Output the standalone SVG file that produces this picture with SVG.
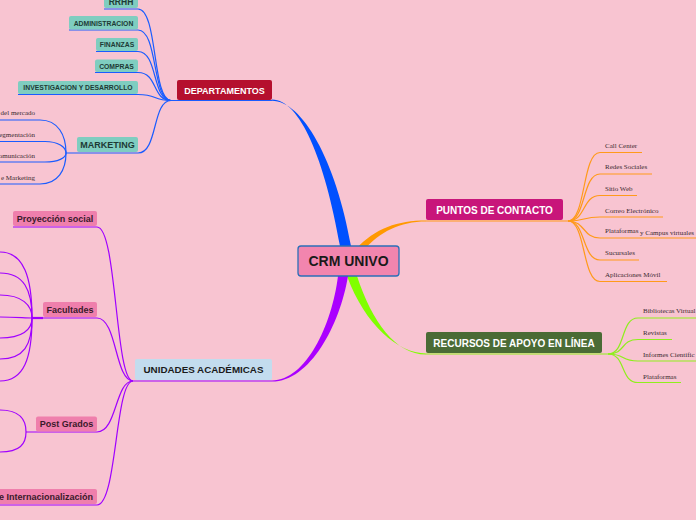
<svg xmlns="http://www.w3.org/2000/svg" width="696" height="520" viewBox="0 0 696 520">
<style>
.bg{fill:#f8c4d1}
.lb{fill:none;stroke:#1a5cff;stroke-width:1.2}
.lp{fill:none;stroke:#a000ff;stroke-width:1.2}
.lo{fill:none;stroke:#ff9a1a;stroke-width:1.2}
.lg{fill:none;stroke:#8fef1c;stroke-width:1.2}
.teal{fill:#7fcdc0}
.pink{fill:#ef7fac}
.tt{font-family:"Liberation Sans",Arial,sans-serif;font-weight:bold;fill:#1d3a35}
.pt{font-family:"Liberation Sans",Arial,sans-serif;font-weight:bold;font-size:9px;fill:#3a1a2a}
.st{font-family:"Liberation Serif","Times New Roman",serif;font-size:7px;fill:#3a2a30}
.mt{font-family:"Liberation Sans",Arial,sans-serif;font-weight:bold;text-anchor:middle}
</style>
<rect class="bg" x="0" y="0" width="696" height="520"/>

<g id="connectors">
  <path d="M272,99.5 C300,99.5 325,160 340,246 L351,246 C336,160 302,100.7 272,100.7 Z" fill="#0050ff"/>
  <path d="M356,249 C375,228 398,220.4 426,220.4 L426,221.6 C400,221.6 380,232 364,250 Z" fill="#ff9900"/>
  <path d="M347,276 C365,325 398,353.4 426,353.4 L426,354.6 C396,354.6 372,322 357,276 Z" fill="#80ff00"/>
  <path d="M338,276 C332,325 306,380.4 272,380.4 L272,381.6 C310,381.6 340,325 348,276 Z" fill="#aa00ff"/>

  <line class="lb" x1="170" y1="100.5" x2="272" y2="100.5"/>
  <line class="lp" x1="133" y1="381" x2="272" y2="381"/>
  <line class="lo" x1="426" y1="221" x2="568" y2="221"/>
  <line class="lg" x1="426" y1="354" x2="608" y2="354"/>

  <path class="lb" d="M104,9 L138,9 C158,9 152,100.5 171,100.5"/>
  <path class="lb" d="M69,30 L138,30 C158,30 152,100.5 171,100.5"/>
  <path class="lb" d="M96,51.5 L138,51.5 C158,51.5 152,100.5 171,100.5"/>
  <path class="lb" d="M95,72.5 L138,72.5 C158,72.5 152,100.5 171,100.5"/>
  <path class="lb" d="M18,94.5 L138,94.5 C158,94.5 152,100.5 171,100.5"/>
  <path class="lb" d="M66,153 L138,153 C158,153 152,100.5 171,100.5"/>

  <path class="lb" d="M0,120 L40,120 C58,120 66,135 66,153"/>
  <path class="lb" d="M0,141.5 L45,141.5 C58,141.5 66,147 66,153"/>
  <path class="lb" d="M0,162 L45,162 C58,162 66,158 66,153"/>
  <path class="lb" d="M0,184 L40,184 C58,184 66,170 66,153"/>

  <path class="lp" d="M13,227 L97,227 C117,227 115,381 133,381"/>
  <path class="lp" d="M32,318 L97,318 C117,318 115,381 133,381"/>
  <path class="lp" d="M26,432 L97,432 C117,432 115,381 133,381"/>
  <path class="lp" d="M0,505 L97,505 C117,505 115,381 133,381"/>
  <line x1="32" y1="318" x2="43" y2="318" stroke="#a000ff" stroke-width="2.2"/>

  <path class="lp" d="M0,252 C24,252 32,278 32,318"/>
  <path class="lp" d="M0,273 C24,273 32,290 32,318"/>
  <path class="lp" d="M0,295 C22,295 32,305 32,318"/>
  <path class="lp" d="M0,317 C15,317 25,318 32,318"/>
  <path class="lp" d="M0,338 C22,338 32,330 32,318"/>
  <path class="lp" d="M0,359 C24,359 32,345 32,318"/>
  <path class="lp" d="M0,381 C24,381 32,358 32,318"/>

  <path class="lp" d="M0,410 C20,410 26,420 26,432"/>
  <path class="lp" d="M0,452 C20,452 26,444 26,432"/>

  <path class="lo" d="M568,221 C586,221 582,152.5 600,152.5 L642,152.5"/>
  <path class="lo" d="M568,221 C586,221 582,174 600,174 L652,174"/>
  <path class="lo" d="M568,221 C586,221 582,195.5 600,195.5 L637,195.5"/>
  <path class="lo" d="M568,221 C586,221 582,217 600,217 L663,217"/>
  <path class="lo" d="M568,221 C586,221 582,238 600,238 L696,238"/>
  <path class="lo" d="M568,221 C586,221 582,260 600,260 L639,260"/>
  <path class="lo" d="M568,221 C586,221 582,281.5 600,281.5 L667,281.5"/>

  <path class="lg" d="M608,354 C626,354 620,318 638,318 L696,318"/>
  <path class="lg" d="M608,354 C626,354 620,339.5 638,339.5 L672,339.5"/>
  <path class="lg" d="M608,354 C626,354 620,361 638,361 L696,361"/>
  <path class="lg" d="M608,354 C626,354 620,382.5 638,382.5 L681,382.5"/>
</g>

<g id="crm-univo">
  <rect x="298" y="246" width="101" height="30" rx="3" fill="#f285ae" stroke="#2a6fb8" stroke-width="1.3"/>
  <text class="mt" x="348.5" y="266" font-size="14" fill="#1a1a1a">CRM UNIVO</text>
</g>

<g id="departamentos">
  <rect x="177" y="80" width="95" height="20" rx="2" fill="#b5102e"/>
  <text class="mt" x="224.5" y="93.5" font-size="9" fill="#ffffff">DEPARTAMENTOS</text>
</g>
<g id="puntos-de-contacto">
  <rect x="426" y="199" width="137" height="21" rx="2" fill="#c8157a"/>
  <text class="mt" x="494.5" y="213.5" font-size="10" fill="#ffffff">PUNTOS DE CONTACTO</text>
</g>
<g id="recursos">
  <rect x="426" y="332" width="176" height="21" rx="2" fill="#4a6b35"/>
  <text class="mt" x="514" y="346.5" font-size="10" fill="#ffffff">RECURSOS DE APOYO EN LÍNEA</text>
</g>
<g id="unidades">
  <rect x="135" y="359" width="137" height="21" rx="2" fill="#c3dcee"/>
  <text class="mt" x="203.5" y="373.3" font-size="9.8" fill="#1a1a1a">UNIDADES ACADÉMICAS</text>
</g>

<g id="rrhh">
  <rect class="teal" x="104" y="-6" width="34" height="14" rx="2"/>
  <text class="tt" x="121" y="5" font-size="8.5" text-anchor="middle">RRHH</text>
</g>
<g id="administracion">
  <rect class="teal" x="69" y="16" width="69" height="13.5" rx="2"/>
  <text class="tt" x="103.5" y="25.5" font-size="6.8" text-anchor="middle">ADMINISTRACION</text>
</g>
<g id="finanzas">
  <rect class="teal" x="96" y="38" width="42" height="13" rx="2"/>
  <text class="tt" x="117" y="47" font-size="6.8" text-anchor="middle">FINANZAS</text>
</g>
<g id="compras">
  <rect class="teal" x="95" y="59.5" width="43" height="12.5" rx="2"/>
  <text class="tt" x="116.5" y="68.5" font-size="6.8" text-anchor="middle">COMPRAS</text>
</g>
<g id="investigacion">
  <rect class="teal" x="18" y="81" width="120" height="13" rx="2"/>
  <text class="tt" x="78" y="90" font-size="6.8" text-anchor="middle">INVESTIGACION Y DESARROLLO</text>
</g>
<g id="marketing">
  <rect class="teal" x="77" y="137" width="61" height="15" rx="2"/>
  <text class="tt" x="107.5" y="148" font-size="9" text-anchor="middle">MARKETING</text>
</g>

<g id="marketing-items">
  <text class="st" x="35" y="114.5" text-anchor="end">del mercado</text>
  <text class="st" x="35" y="136.5" text-anchor="end">egmentación</text>
  <text class="st" x="35" y="157.5" text-anchor="end">omunicación</text>
  <text class="st" x="35" y="179.5" text-anchor="end">e Marketing</text>
</g>

<g id="proyeccion-social">
  <rect class="pink" x="13" y="211" width="84" height="15" rx="2"/>
  <text class="pt" x="55" y="221.5" text-anchor="middle">Proyección social</text>
</g>
<g id="facultades">
  <rect class="pink" x="43" y="302" width="54" height="15" rx="2"/>
  <text class="pt" x="70" y="312.5" text-anchor="middle">Facultades</text>
</g>
<g id="post-grados">
  <rect class="pink" x="36" y="416.5" width="61" height="15" rx="2"/>
  <text class="pt" x="66.5" y="427" text-anchor="middle">Post Grados</text>
</g>
<g id="internacionalizacion">
  <rect class="pink" x="-2" y="489" width="99" height="15" rx="2"/>
  <text class="pt" x="93" y="499.5" text-anchor="end">e Internacionalización</text>
</g>

<g id="puntos-items">
  <text class="st" x="605" y="147.5">Call Center</text>
  <text class="st" x="605" y="169">Redes Sociales</text>
  <text class="st" x="605" y="190.5">Sitio Web</text>
  <text class="st" x="605" y="212.5">Correo Electrónico</text>
  <text class="st" x="605" y="233">Plataformas</text>
  <text class="st" x="640" y="234.5" font-size="6.5">y Campus virtuales</text>
  <text class="st" x="605" y="255">Sucursales</text>
  <text class="st" x="605" y="276.5">Aplicaciones  Móvil</text>
</g>

<g id="recursos-items">
  <text class="st" x="643" y="313">Bibliotecas Virtual</text>
  <text class="st" x="643" y="335">Revistas</text>
  <text class="st" x="643" y="357">Informes Científic</text>
  <text class="st" x="643" y="378.5">Plataformas</text>
</g>
</svg>
